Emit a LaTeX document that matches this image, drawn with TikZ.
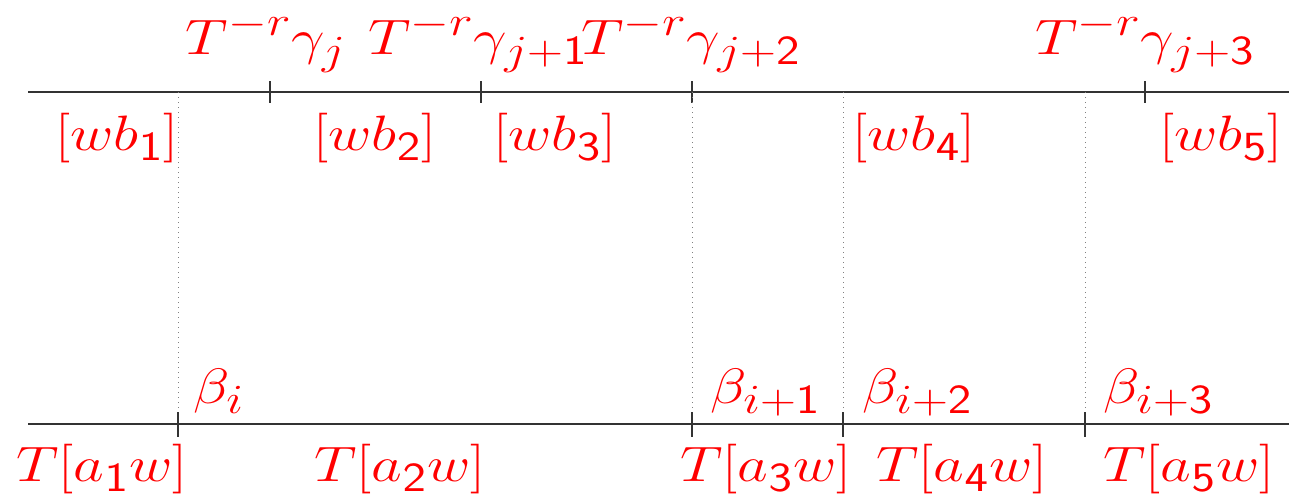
\documentclass[tikz,border=0pt]{standalone}
\usepackage{graphicx}
\DeclareMathSizes{25}{25}{20}{16}
\begin{document}
\begin{tikzpicture}[x=0.5pt,y=-0.5pt,
  lbl/.style={text=red, inner sep=0pt, anchor=base, font=\fontsize{25}{30}\selectfont},
  lblw/.style={lbl, anchor=base west},
  axisline/.style={line width=0.6pt, black!80},
  tickmark/.style={line width=0.6pt, black!80},
  guide/.style={dotted, gray, line width=0.5pt}]
\useasboundingbox (0,0) rectangle (1289,499);
\newcommand{\sd}[1]{\mathsf{#1}}
\newcommand{\wm}[1]{\scalebox{1.2}[1]{$#1$}}
% axes
\coordinate (tl) at (28,92); \coordinate (tr) at (1289,92);
\coordinate (bl) at (28,424); \coordinate (br) at (1289,424);
\draw[axisline] (tl) -- (tr);
\draw[axisline] (bl) -- (br);
% top ticks
\foreach \x/\n in {270/a,481/b,692/c,1145/d}{
  \coordinate (tt\n1) at (\x,81); \coordinate (tt\n2) at (\x,103);
  \draw[tickmark] (tt\n1) -- (tt\n2);
}
% dotted guides and bottom ticks
\foreach \x/\n in {178/a,692/b,843/c,1085/d}{
  \coordinate (gt\n) at (\x,92); \coordinate (gb\n) at (\x,424);
  \draw[guide] (gt\n) -- (gb\n);
  \coordinate (bt\n1) at (\x,412); \coordinate (bt\n2) at (\x,437);
  \draw[tickmark] (bt\n1) -- (bt\n2);
}
% top labels
\node[lbl] (g0) at (266,54) {\wm{T^{-r}\gamma_j}};
\node[lbl] (g1) at (478,54) {\wm{T^{-r}\gamma_{j+\sd{1}}}};
\node[lbl] (g2) at (691,54) {\wm{T^{-r}\gamma_{j+\sd{2}}}};
\node[lbl] (g3) at (1145,54) {\wm{T^{-r}\gamma_{j+\sd{3}}}};
\node[lbl] (w1) at (117,150) {\wm{[wb_{\sd{1}}]}};
\node[lbl] (w2) at (375,150) {\wm{[wb_{\sd{2}}]}};
\node[lbl] (w3) at (555,150) {\wm{[wb_{\sd{3}}]}};
\node[lbl] (w4) at (914,150) {\wm{[wb_{\sd{4}}]}};
\node[lbl] (w5) at (1221,150) {\wm{[wb_{\sd{5}}]}};
% bottom labels
\node[lblw] (b0) at (193,403) {\wm{\beta_i}};
\node[lblw] (b1) at (710,403) {\wm{\beta_{i+\sd{1}}}};
\node[lblw] (b2) at (862,403) {\wm{\beta_{i+\sd{2}}}};
\node[lblw] (b3) at (1103,403) {\wm{\beta_{i+\sd{3}}}};
\node[lbl] (a1) at (102,481) {\wm{T[a_{\sd{1}}w]}};
\node[lbl] (a2) at (400,481) {\wm{T[a_{\sd{2}}w]}};
\node[lbl] (a3) at (766,481) {\wm{T[a_{\sd{3}}w]}};
\node[lbl] (a4) at (962,481) {\wm{T[a_{\sd{4}}w]}};
\node[lbl] (a5) at (1189,481) {\wm{T[a_{\sd{5}}w]}};
\end{tikzpicture}
\end{document}
